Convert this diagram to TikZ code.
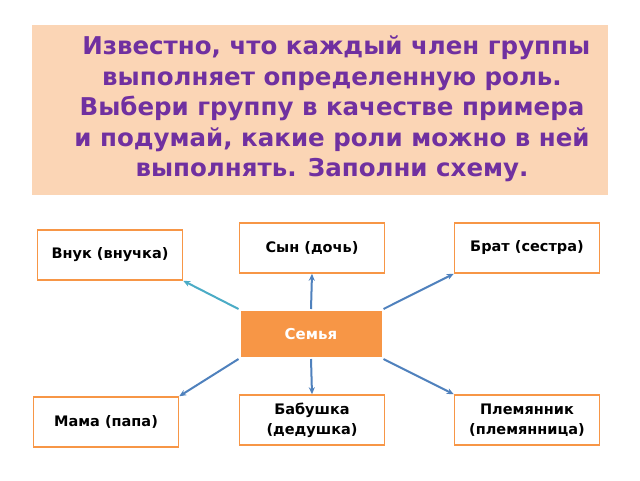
\documentclass[tikz,border=0pt]{standalone}
\usepackage{fontspec}
\setmainfont{DejaVu Sans}
\usetikzlibrary{arrows.meta}
\definecolor{peach}{HTML}{FBD5B5}
\definecolor{ttl}{HTML}{7030A0}
\definecolor{orng}{HTML}{F79646}
\definecolor{arr}{HTML}{4F81BD}
\definecolor{arr2}{HTML}{4BACC6}
\tikzset{
 box/.style={draw=orng,line width=1.5pt,fill=white,minimum width=145pt,minimum height=50pt,align=center,font=\bfseries\fontsize{14.5}{20}\selectfont,inner sep=0pt},
 con/.style={draw=arr,line width=2pt,-{Stealth[length=7pt,width=6pt]}}
}
\begin{document}
\begin{tikzpicture}[x=1pt,y=-1pt]
\useasboundingbox (0,0) rectangle (640,480);
\fill[white] (0,0) rectangle (640,480);
\node[fill=peach,minimum width=576pt,minimum height=170pt,anchor=north west,inner sep=0pt] (title) at (32,25) {};
\node[text=ttl,font=\bfseries\fontsize{24.5}{30.5}\selectfont,align=center] (tt) at (332,109) {\ Известно, что каждый член группы\\выполняет определенную роль.\\Выбери группу в качестве примера\\и подумай, какие роли можно в ней\\выполнять. Заполни схему.};
\node[box] (son) at (312,248) {Сын (дочь)};
\node[box] (bro) at (527,248) {Брат (сестра)};
\node[box] (vnuk) at (110,255) {Внук (внучка)};
\node[box] (mama) at (106,422) {Мама (папа)};
\node[box] (bab) at (312,420) {Бабушка\\(дедушка)};
\node[box] (ple) at (527,420) {Племянник\\(племянница)};
\node[fill=orng,draw=white,line width=2pt,minimum width=143pt,minimum height=48pt,text=white,font=\bfseries\fontsize{15}{18}\selectfont] (fam) at (311,334) {Семья};
\draw[con] (fam.north) -- (son.south);
\draw[con] (fam.south) -- (bab.north);
\draw[con] (fam.north east) -- (bro.south west);
\draw[con] (fam.south east) -- (ple.north west);
\draw[con] (fam.south west) -- (mama.north east);
\draw[con,draw=arr2] (fam.north west) -- (vnuk.south east);
\end{tikzpicture}
\end{document}
